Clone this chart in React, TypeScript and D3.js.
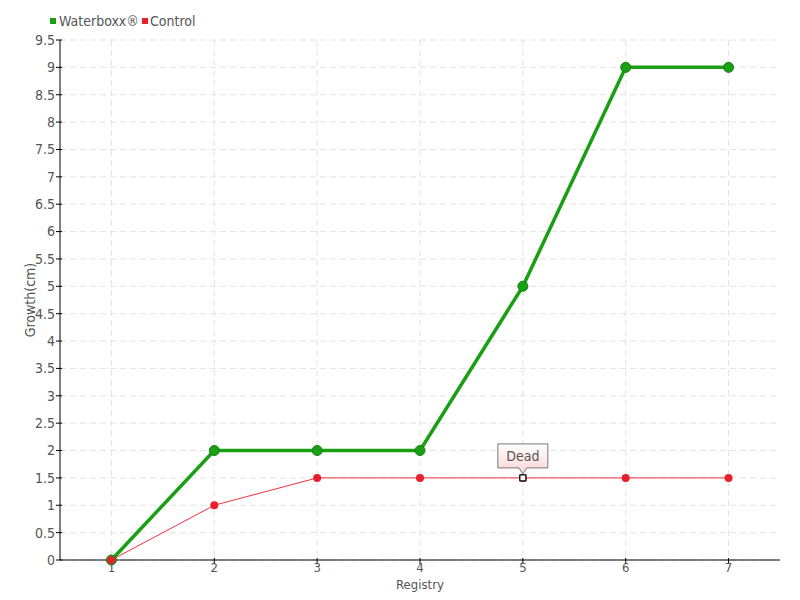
import React from "react";
import * as d3 from "d3";

const categories = ["1", "2", "3", "4", "5", "6", "7"];
const waterboxx = [0, 2, 2, 2, 5, 9, 9];
const control = [0, 1, 1.5, 1.5, 1.5, 1.5, 1.5];
const yTicks = d3.range(0, 9.51, 0.5);
const seriesNames = ["Waterboxx®", "Control"];
const annotationIndex = 4;
const annotationText = "Dead";

const W = 800, H = 600;
const m = { left: 60, right: 20, top: 40, bottom: 40 };
const FONT = "'DejaVu Sans Condensed', 'Liberation Sans Narrow', sans-serif";

export default function App() {
  const x = d3.scaleBand().domain(categories).range([m.left, W - m.right]).padding(0);
  const cx = (c: string) => (x(c) as number) + x.bandwidth() / 2;
  const y = d3.scaleLinear().domain([0, 9.5]).range([H - m.bottom, m.top]);
  const line = d3.line<number>().x((_, i) => cx(categories[i])).y((d) => y(d));
  const ax = cx(categories[annotationIndex]);
  const ay = y(control[annotationIndex]);
  return (
    <svg width={W} height={H} style={{ position: "absolute", left: 0, top: 0 }} fontFamily={FONT}>
      <defs>
        <linearGradient id="tipg" x1="0" y1="0" x2="0" y2="1">
          <stop offset="0" stopColor="#ffffff" />
          <stop offset="1" stopColor="#fbd5d5" />
        </linearGradient>
      </defs>
      <rect width={W} height={H} fill="#fff" />
      {yTicks.map((t) => (
        <line key={"gy" + t} x1={m.left} x2={W - m.right} y1={y(t)} y2={y(t)} stroke="#e3e3e3" strokeDasharray="6,4" />
      ))}
      {categories.map((c) => (
        <line key={"gx" + c} x1={cx(c)} x2={cx(c)} y1={m.top} y2={H - m.bottom} stroke="#e3e3e3" strokeDasharray="6,4" />
      ))}
      <line x1={m.left} x2={m.left} y1={m.top} y2={H - m.bottom} stroke="#000" />
      <line x1={m.left} x2={W - m.right} y1={H - m.bottom} y2={H - m.bottom} stroke="#000" />
      {yTicks.map((t) => (
        <g key={"ty" + t}>
          <line x1={m.left - 4} x2={m.left + 2} y1={y(t)} y2={y(t)} stroke="#000" />
          <text x={m.left - 5} y={y(t)} dy="0.35em" textAnchor="end" fontSize={14} fill="#555">{String(t)}</text>
        </g>
      ))}
      {categories.map((c) => (
        <g key={"tx" + c}>
          <line x1={cx(c)} x2={cx(c)} y1={H - m.bottom - 2} y2={H - m.bottom + 4} stroke="#000" />
          <text x={cx(c)} y={H - m.bottom + 12} textAnchor="middle" fontSize={13} fill="#555">{c}</text>
        </g>
      ))}
      <text x={420} y={589} textAnchor="middle" fontSize={13} fill="#555">Registry</text>
      <text transform={`translate(35,300) rotate(-90)`} textAnchor="middle" fontSize={14} fill="#555">Growth(cm)</text>

      <path d={line(control) || ""} fill="none" stroke="#f0323f" strokeWidth={1} />
      <path d={line(waterboxx) || ""} fill="none" stroke="#1a9e14" strokeWidth={3.5} />
      {waterboxx.map((v, i) => (
        <circle key={"wb" + i} cx={cx(categories[i])} cy={y(v)} r={5} fill="#1a9e14" stroke="#14800f" strokeWidth={1} />
      ))}
      {control.map((v, i) => (
        <circle key={"cp" + i} cx={cx(categories[i])} cy={y(v)} r={4} fill="#e8202e" />
      ))}
      <rect x={ax - 3} y={ay - 3} width={6} height={6} fill="#fff" stroke="#000" strokeWidth={1.2} />

      <path d={`M${ax - 25},${ay - 34} h50 v24 h-21 l-4,6 l-4,-6 h-21 Z`} fill="url(#tipg)" stroke="#777" strokeWidth={1} />
      <text x={ax} y={ay - 17} textAnchor="middle" fontSize={14} fill="#555">{annotationText}</text>

      <rect x={50} y={18} width={6} height={6} fill="#1a9e14" />
      <text x={59} y={26} fontSize={14} fill="#555">{seriesNames[0]}</text>
      <rect x={142} y={18} width={6} height={6} fill="#e8202e" />
      <text x={150} y={26} fontSize={14} fill="#555">{seriesNames[1]}</text>
    </svg>
  );
}
